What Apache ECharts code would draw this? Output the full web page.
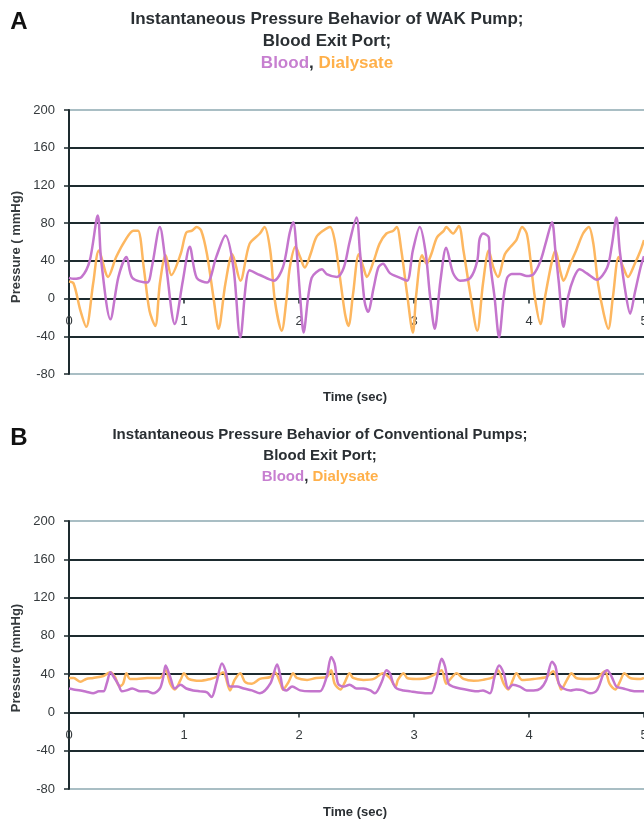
<!DOCTYPE html>
<html>
<head>
<meta charset="utf-8">
<script src="https://cdn.jsdelivr.net/npm/echarts@6/dist/echarts.min.js"></script>
<style>
  html, body { margin: 0; padding: 0; background: #fff; overflow: hidden; }
  #chart { width: 644px; height: 824px; }
</style>
</head>
<body>
<div id="chart"></div>
<script>
// Panel A: WAK pump, pressure at the blood exit port, [time s, mmHg]
const bloodA = [[0,22],[0.04,21],[0.11,23],[0.18,40],[0.25,88],[0.28,40],[0.36,-22],[0.43,23],[0.50,44],[0.55,22],
  [0.68,17],[0.72,33],[0.79,76],[0.84,39],[0.92,-27],[0.99,19],[1.05,55],[1.11,22],[1.20,17],[1.28,44],
  [1.36,67],[1.43,33],[1.49,-41],[1.57,30],[1.66,25],[1.78,19],[1.86,33],[1.92,70],[1.95,81],[1.98,50],
  [2.01,2],[2.04,-36],[2.08,2],[2.11,22],[2.15,28],[2.20,31],[2.24,26],[2.33,23],[2.39,33],[2.44,60],
  [2.50,86],[2.53,50],[2.57,-3],[2.60,-14],[2.65,12],[2.69,33],[2.73,37],[2.79,27],[2.88,22],[2.94,19],
  [2.99,51],[3.05,76],[3.10,50],[3.14,2],[3.18,-32],[3.23,19],[3.28,54],[3.34,27],[3.40,19],[3.49,22],
  [3.55,40],[3.57,63],[3.60,69],[3.65,65],[3.66,40],[3.70,2],[3.74,-41],[3.78,2],[3.81,22],[3.85,26],
  [3.92,26],[3.98,24],[4.04,26],[4.10,40],[4.15,61],[4.20,81],[4.23,50],[4.26,16],[4.30,-30],[4.34,2],
  [4.39,22],[4.44,31],[4.50,27],[4.59,20],[4.68,33],[4.72,56],[4.76,86],[4.79,50],[4.84,6],[4.88,-16],
  [4.92,6],[4.97,33],[5.00,45]];
const dialysateA = [[0,18],[0.04,16],[0.10,-13],[0.15,-30],[0.21,16],[0.26,51],[0.34,23],[0.41,44],[0.49,62],[0.56,72],
  [0.60,72],[0.65,33],[0.70,-13],[0.75,-29],[0.79,16],[0.84,46],[0.89,25],[0.97,47],[1.02,70],[1.07,72],
  [1.11,76],[1.15,72],[1.20,47],[1.26,-2],[1.30,-32],[1.36,16],[1.42,47],[1.49,19],[1.57,58],[1.66,69],
  [1.70,76],[1.75,51],[1.79,-2],[1.85,-34],[1.89,-2],[1.92,33],[1.97,55],[2.01,44],[2.05,33],[2.10,47],
  [2.15,65],[2.21,72],[2.27,76],[2.31,62],[2.36,19],[2.40,-16],[2.43,-29],[2.47,5],[2.52,47],[2.56,33],
  [2.59,23],[2.65,40],[2.70,58],[2.76,69],[2.82,72],[2.85,76],[2.89,51],[2.94,5],[2.99,-36],[3.02,5],
  [3.07,46],[3.11,37],[3.15,47],[3.20,65],[3.26,72],[3.28,76],[3.34,69],[3.39,77],[3.43,51],[3.49,5],
  [3.55,-34],[3.60,16],[3.65,51],[3.69,33],[3.73,23],[3.79,47],[3.84,55],[3.89,62],[3.94,76],[3.98,69],
  [4.01,44],[4.05,2],[4.10,-27],[4.14,2],[4.20,40],[4.23,51],[4.27,30],[4.30,19],[4.36,37],[4.41,51],
  [4.47,69],[4.52,76],[4.56,58],[4.60,16],[4.65,-16],[4.69,-32],[4.73,2],[4.78,44],[4.82,33],[4.86,23],
  [4.92,37],[4.97,51],[5.00,62]];

// Panel B: conventional pumps, same port
const bloodB = [[0,25],[0.04,24],[0.10,23],[0.15,21.6],[0.21,20],[0.26,22],[0.30,22],[0.33,31],[0.36,42],[0.39,37],
  [0.43,29],[0.46,22],[0.50,23],[0.55,25],[0.62,22],[0.68,22],[0.73,20],[0.79,25],[0.82,37],[0.84,49],
  [0.88,37],[0.92,25],[0.97,29],[1.02,25],[1.08,23],[1.14,22],[1.20,21],[1.24,16],[1.28,30],[1.33,51],
  [1.36,44],[1.40,27],[1.46,27],[1.52,25],[1.59,23],[1.66,20],[1.75,30],[1.81,50],[1.84,37],[1.86,25],
  [1.89,23],[1.94,27],[2.01,23],[2.10,22],[2.18,22],[2.24,37],[2.28,58],[2.31,51],[2.34,30],[2.39,27],
  [2.44,29],[2.50,25],[2.56,25],[2.62,23],[2.66,20],[2.72,32],[2.76,44],[2.79,41],[2.82,30],[2.85,25],
  [2.91,23],[2.97,22],[3.02,21],[3.11,20],[3.15,20],[3.20,37],[3.24,56],[3.27,48],[3.30,30],[3.34,27],
  [3.40,25],[3.49,23],[3.55,22],[3.60,23],[3.66,20],[3.70,37],[3.74,49],[3.78,41],[3.82,25],[3.86,29],
  [3.92,27],[3.98,23],[4.04,23],[4.10,25],[4.15,34],[4.20,53],[4.23,48],[4.26,30],[4.30,25],[4.36,23],
  [4.41,24],[4.47,23],[4.53,20],[4.59,23],[4.65,41],[4.68,44],[4.72,37],[4.76,27],[4.82,25],[4.88,23],
  [4.94,22],[5.00,22]];
const dialysateB = [[0,36],[0.04,36],[0.10,32],[0.15,35],[0.21,36],[0.30,38],[0.34,41],[0.36,42],[0.40,37],[0.44,27],
  [0.47,30],[0.50,41],[0.53,35],[0.59,35],[0.68,36],[0.79,36],[0.84,44],[0.88,30],[0.92,24],[0.97,34],
  [1.00,41],[1.04,35],[1.14,33],[1.23,35],[1.28,37],[1.34,42],[1.40,23],[1.44,34],[1.49,41],[1.53,32],
  [1.59,30],[1.66,35],[1.75,37],[1.79,42],[1.84,30],[1.86,24],[1.91,32],[1.95,41],[1.98,36],[2.07,34],
  [2.15,36],[2.24,37],[2.28,44],[2.31,30],[2.36,24],[2.40,32],[2.44,41],[2.47,36],[2.56,34],[2.65,35],
  [2.73,41],[2.79,36],[2.84,27],[2.86,34],[2.91,41],[2.94,36],[3.02,35],[3.11,36],[3.20,41],[3.24,44],
  [3.28,30],[3.31,34],[3.37,41],[3.43,35],[3.52,33],[3.60,34],[3.69,37],[3.73,44],[3.78,30],[3.82,24],
  [3.86,34],[3.89,41],[3.94,34],[4.04,35],[4.15,37],[4.21,43],[4.26,30],[4.28,24],[4.33,34],[4.37,41],
  [4.41,36],[4.50,35],[4.59,36],[4.66,43],[4.70,30],[4.75,24],[4.79,32],[4.83,41],[4.88,36],[4.97,35],
  [5.00,36]];

// Axis settings
const timeMin = 0, timeMax = 5, timeStep = 1;
const pressMin = -80, pressMax = 200, pressStep = 40;

const FONT = '"Liberation Sans", Arial, sans-serif';
const INK = '#1d2b2f';
const BLOOD = '#c475cd';
const DIAL = '#fdb760';

// plot boxes (px)
const boxes = [
  { left: 69, top: 110, width: 575, height: 264 },
  { left: 69, top: 521, width: 575, height: 268 }
];

// the time axis sits on the 0 mmHg line: shift it up from the box bottom
function zeroOffset(box) {
  const zeroY = box.top + box.height * (pressMax - 0) / (pressMax - pressMin);
  return zeroY - (box.top + box.height);
}

function xAxisFor(gridIndex) {
  return {
    type: 'value', gridIndex, min: timeMin, max: timeMax, interval: timeStep,
    position: 'bottom', offset: zeroOffset(boxes[gridIndex]),
    axisLine: { onZero: false, lineStyle: { color: INK, width: 2 } },
    axisTick: { show: true, length: 5, lineStyle: { color: INK, width: 1.5 } },
    axisLabel: { margin: 16, fontSize: 13, color: '#353a3d', fontFamily: FONT,
      showMinLabel: true, showMaxLabel: true, hideOverlap: false },
    splitLine: { show: false }
  };
}
function yAxisFor(gridIndex) {
  const light = '#a9bec4';
  return {
    type: 'value', gridIndex, min: pressMin, max: pressMax, interval: pressStep,
    axisLine: { show: true, onZero: false, lineStyle: { color: INK, width: 2 } },
    axisTick: { show: true, length: 5, lineStyle: { color: INK, width: 1.5 } },
    axisLabel: { margin: 14, fontSize: 13, color: '#353a3d', fontFamily: FONT },
    splitLine: { show: true, lineStyle: { width: 2,
      color: [light, INK, INK, INK, INK, INK, INK, light] } }
  };
}
function lineSeries(data, color, idx) {
  return {
    type: 'line', data, xAxisIndex: idx, yAxisIndex: idx,
    showSymbol: false, smooth: 0.3, animation: false,
    lineStyle: { color, width: 2.5 }
  };
}
function textEl(text, x, y, size, weight, color, extra) {
  return Object.assign({
    type: 'text', x, y,
    style: { text, fill: color, font: `${weight} ${size}px ${FONT}`,
      textAlign: 'center', textVerticalAlign: 'middle' }
  }, extra || {});
}
function legendLine(x, y, size) {
  return {
    type: 'text', x, y,
    style: {
      text: '{b|Blood}{c|, }{d|Dialysate}',
      textAlign: 'center', textVerticalAlign: 'middle',
      rich: {
        b: { fill: '#c77fd0', fontSize: size, fontWeight: 'bold', fontFamily: FONT },
        c: { fill: '#2a2f33', fontSize: size, fontWeight: 'bold', fontFamily: FONT },
        d: { fill: '#ffb04a', fontSize: size, fontWeight: 'bold', fontFamily: FONT }
      }
    }
  };
}

const chart = echarts.init(document.getElementById('chart'), null, { renderer: 'canvas' });
chart.setOption({
  animation: false,
  backgroundColor: '#ffffff',
  grid: boxes.map(b => Object.assign({ containLabel: false, outerBoundsMode: 'none' }, b)),
  xAxis: [xAxisFor(0), xAxisFor(1)],
  yAxis: [yAxisFor(0), yAxisFor(1)],
  series: [
    lineSeries(dialysateA, DIAL, 0),
    lineSeries(bloodA, BLOOD, 0),
    lineSeries(dialysateB, DIAL, 1),
    lineSeries(bloodB, BLOOD, 1)
  ],
  graphic: [
    textEl('A', 19, 22, 24, 'bold', '#111'),
    textEl('Instantaneous Pressure Behavior of WAK Pump;', 327, 19, 17, 'bold', '#2a2f33'),
    textEl('Blood Exit Port;', 327, 41, 17, 'bold', '#2a2f33'),
    legendLine(327, 63, 17),
    textEl('Time (sec)', 355, 397, 13, 'bold', '#2a2f33'),
    textEl('Pressure ( mmHg)', 16, 247, 13, 'bold', '#353a3d', { rotation: Math.PI / 2 }),

    textEl('B', 19, 438, 24, 'bold', '#111'),
    textEl('Instantaneous Pressure Behavior of Conventional Pumps;', 320, 435, 15, 'bold', '#2a2f33'),
    textEl('Blood Exit Port;', 320, 456, 15, 'bold', '#2a2f33'),
    legendLine(320, 477, 15),
    textEl('Time (sec)', 355, 812, 13, 'bold', '#2a2f33'),
    textEl('Pressure (mmHg)', 16, 658, 13, 'bold', '#353a3d', { rotation: Math.PI / 2 })
  ]
});
</script>
</body>
</html>
